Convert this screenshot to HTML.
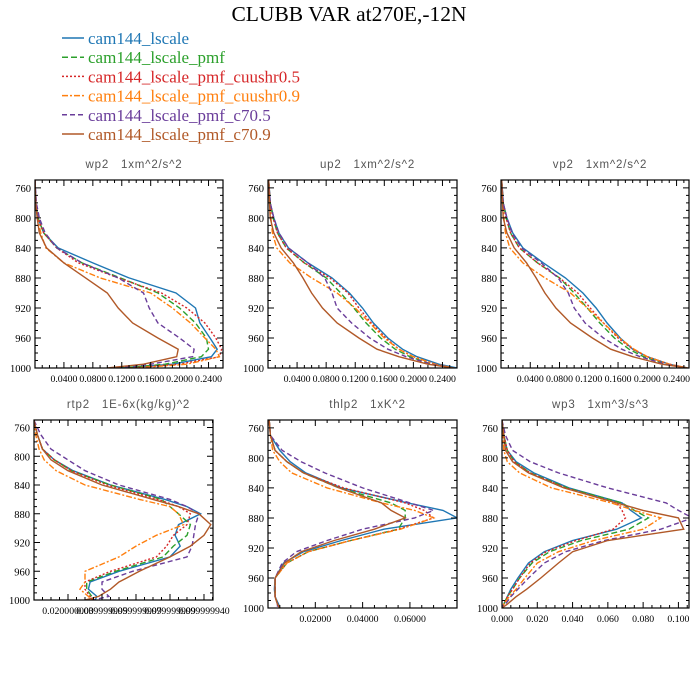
<!DOCTYPE html>
<html><head><meta charset="utf-8">
<style>
html,body{margin:0;padding:0;background:#fff;}
svg{display:block;}
.ttl{font-family:"Liberation Serif",serif;font-size:21.5px;fill:#000;}
.leg{font-family:"Liberation Serif",serif;font-size:17px;}
.ptitle{font-family:"Liberation Sans",sans-serif;font-size:11.5px;fill:#555;letter-spacing:0.8px;white-space:pre;}
.tick{font-family:"Liberation Serif",serif;font-size:10.5px;fill:#000;}
.xtick{font-family:"Liberation Serif",serif;font-size:9.8px;fill:#000;}
</style></head>
<body>
<svg id="chart" width="700" height="700" viewBox="0 0 700 700">
<text class="ttl" x="349" y="21" text-anchor="middle">CLUBB VAR at270E,-12N</text>
<g id="legend"></g>
<g id="panels"></g>
</svg>
<script>
const seriesNames = ["cam144_lscale","cam144_lscale_pmf","cam144_lscale_pmf_cuushr0.5","cam144_lscale_pmf_cuushr0.9","cam144_lscale_pmf_c70.5","cam144_lscale_pmf_c70.9"];
const seriesColors = ["#1f77b4","#2ca02c","#d62728","#ff7f0e","#6a3d9a","#b15928"];
const seriesDash = ["none","6,3","2,2","6,2,2,2","5,3","none"];

const topLevels = [750,780,800,820,840,860,880,900,920,940,960,975,985,995,1000];
const botLevels = [750,770,790,805,820,840,860,870,880,895,910,925,940,960,975,985,995,1000];
const yTicks = [760,800,840,880,920,960,1000];

const wp2Blue   = [0,0.001,0.004,0.012,0.032,0.08,0.13,0.195,0.222,0.228,0.242,0.252,0.244,0.19,0.12];
const wp2Green  = [0,0.001,0.004,0.012,0.03,0.065,0.118,0.17,0.2,0.222,0.237,0.24,0.23,0.18,0.12];
const wp2Red    = [0,0.001,0.004,0.012,0.03,0.06,0.115,0.175,0.21,0.235,0.25,0.258,0.255,0.2,0.13];
const wp2Orange = [0,0.001,0.003,0.008,0.015,0.04,0.09,0.16,0.19,0.215,0.235,0.25,0.255,0.21,0.14];
const wp2Purple = [0,0.002,0.006,0.014,0.03,0.065,0.115,0.15,0.158,0.17,0.2,0.22,0.218,0.16,0.11];
const wp2Brown  = [0,0.001,0.003,0.006,0.016,0.04,0.07,0.1,0.115,0.135,0.17,0.198,0.196,0.15,0.1];

const up2Blue   = [0.001,0.003,0.008,0.015,0.028,0.055,0.088,0.112,0.13,0.145,0.165,0.185,0.205,0.235,0.26];
const up2Green  = [0.001,0.003,0.007,0.013,0.025,0.05,0.08,0.1,0.118,0.135,0.155,0.175,0.195,0.225,0.255];
const up2Red    = [0.001,0.003,0.007,0.013,0.025,0.05,0.085,0.11,0.125,0.142,0.162,0.18,0.2,0.23,0.255];
const up2Orange = [0.001,0.002,0.004,0.006,0.012,0.03,0.06,0.095,0.12,0.14,0.16,0.18,0.2,0.23,0.255];
const up2Purple = [0.001,0.003,0.008,0.015,0.028,0.055,0.078,0.088,0.095,0.115,0.14,0.165,0.19,0.225,0.255];
const up2Brown  = [0.001,0.002,0.003,0.008,0.018,0.035,0.048,0.06,0.075,0.095,0.125,0.15,0.18,0.22,0.255];

const vp2Blue   = [0.001,0.003,0.008,0.016,0.03,0.058,0.088,0.112,0.13,0.145,0.163,0.18,0.2,0.23,0.255];
const vp2Green  = [0.001,0.003,0.007,0.013,0.025,0.05,0.08,0.1,0.118,0.135,0.155,0.175,0.195,0.225,0.255];
const vp2Red    = [0.001,0.003,0.007,0.013,0.025,0.05,0.08,0.105,0.122,0.14,0.16,0.18,0.2,0.23,0.255];
const vp2Orange = [0.001,0.002,0.004,0.006,0.012,0.03,0.06,0.095,0.118,0.14,0.162,0.182,0.2,0.23,0.255];
const vp2Purple = [0.001,0.003,0.008,0.015,0.028,0.055,0.078,0.092,0.1,0.115,0.14,0.165,0.19,0.225,0.255];
const vp2Brown  = [0.001,0.002,0.003,0.008,0.018,0.035,0.048,0.06,0.075,0.095,0.125,0.15,0.18,0.22,0.255];

const rtp2Blue   = [0,0.002,0.005,0.012,0.023,0.045,0.077,0.09,0.098,0.085,0.083,0.086,0.08,0.05,0.033,0.032,0.037,0.036];
const rtp2Green  = [0,0.002,0.005,0.012,0.022,0.045,0.075,0.08,0.085,0.092,0.09,0.082,0.076,0.048,0.031,0.031,0.034,0.035];
const rtp2Red    = [0,0.002,0.005,0.012,0.022,0.043,0.073,0.085,0.092,0.09,0.082,0.078,0.072,0.045,0.03,0.03,0.033,0.035];
const rtp2Orange = [0,0.001,0.003,0.006,0.013,0.03,0.062,0.08,0.085,0.088,0.072,0.06,0.05,0.03,0.03,0.027,0.032,0.034];
const rtp2Purple = [0,0.004,0.01,0.02,0.03,0.05,0.08,0.09,0.097,0.095,0.094,0.093,0.09,0.058,0.04,0.04,0.044,0.035];
const rtp2Brown  = [0,0.002,0.005,0.01,0.02,0.04,0.07,0.085,0.097,0.104,0.1,0.092,0.08,0.062,0.05,0.045,0.038,0.03];

const thlp2Blue   = [0.0005,0.001,0.005,0.0094,0.016,0.031,0.059,0.074,0.08,0.049,0.031,0.015,0.0066,0.003,0.0027,0.003,0.0045,0.005];
const thlp2Green  = [0.0005,0.001,0.003,0.008,0.015,0.03,0.052,0.058,0.058,0.055,0.035,0.017,0.008,0.003,0.003,0.003,0.004,0.005];
const thlp2Red    = [0.0005,0.001,0.003,0.008,0.015,0.032,0.058,0.066,0.07,0.055,0.035,0.017,0.008,0.003,0.003,0.003,0.004,0.005];
const thlp2Orange = [0.0005,0.001,0.002,0.005,0.01,0.025,0.048,0.062,0.07,0.056,0.035,0.017,0.008,0.003,0.003,0.003,0.004,0.005];
const thlp2Purple = [0.0005,0.001,0.006,0.014,0.024,0.04,0.06,0.07,0.062,0.04,0.025,0.012,0.006,0.003,0.003,0.003,0.004,0.004];
const thlp2Brown  = [0.0005,0.001,0.003,0.008,0.015,0.03,0.048,0.052,0.058,0.045,0.028,0.014,0.007,0.003,0.003,0.003,0.004,0.005];

const wp3Blue   = [0,0.001,0.003,0.008,0.018,0.038,0.068,0.073,0.079,0.065,0.04,0.024,0.015,0.009,0.005,0.003,0.001,0];
const wp3Green  = [0,0.001,0.003,0.007,0.016,0.037,0.068,0.075,0.083,0.072,0.045,0.027,0.017,0.01,0.006,0.003,0.001,0];
const wp3Red    = [0,0.001,0.003,0.007,0.016,0.036,0.065,0.068,0.07,0.063,0.042,0.025,0.016,0.01,0.006,0.003,0.001,0];
const wp3Orange = [0,0.0005,0.001,0.003,0.01,0.028,0.062,0.075,0.09,0.08,0.052,0.032,0.02,0.013,0.008,0.004,0.001,0];
const wp3Purple = [0,0.002,0.006,0.016,0.032,0.06,0.093,0.1,0.108,0.09,0.058,0.036,0.024,0.015,0.009,0.005,0.002,0];
const wp3Brown  = [0,0.001,0.002,0.006,0.015,0.035,0.065,0.08,0.1,0.103,0.06,0.04,0.032,0.022,0.014,0.008,0.003,0];

const topXTicks = [0.04,0.08,0.12,0.16,0.20,0.24];
const topXLabels = ["0.0400","0.0800","0.1200","0.1600","0.2000","0.2400"];
const rtpXTicks = [0.02,0.04,0.06,0.08,0.10];
const rtpXLabels = ["0.020000000","0.039999999","0.059999999","0.079999999","0.099999940"];
const thlXTicks = [0.02,0.04,0.06];
const thlXLabels = ["0.02000","0.04000","0.06000"];
const wp3XTicks = [0,0.02,0.04,0.06,0.08,0.10];
const wp3XLabels = ["0.000","0.020","0.040","0.060","0.080","0.100"];

const NS="http://www.w3.org/2000/svg";
function mk(tag, parent){const e=document.createElementNS(NS,tag);parent.appendChild(e);return e;}

const lg=document.getElementById('legend');
for(let i=0;i<seriesNames.length;i++){
  const y=38+i*19.2;
  const ln=mk('line',lg);
  
  
  ln.setAttribute('x1',62);ln.setAttribute('x2',84);ln.setAttribute('y1',y);ln.setAttribute('y2',y);
  ln.setAttribute('stroke',seriesColors[i]);ln.setAttribute('stroke-width',1.5);
  if(seriesDash[i]!=='none')ln.setAttribute('stroke-dasharray',seriesDash[i]);
  const t=mk('text',lg);
  
  
  t.setAttribute('class','leg');t.setAttribute('x',88);t.setAttribute('y',y+6);
  t.setAttribute('fill',seriesColors[i]);t.textContent=seriesNames[i];
}

const panels=[
 {name:'wp2',title:'wp2   1xm^2/s^2',box:[35,180,223,368],xd:[0,0.26],lev:topLevels,xt:topXTicks,xl:topXLabels,minor:0.01,data:[wp2Blue,wp2Green,wp2Red,wp2Orange,wp2Purple,wp2Brown]},
 {name:'up2',title:'up2   1xm^2/s^2',box:[268,180,457,368],xd:[0,0.26],lev:topLevels,xt:topXTicks,xl:topXLabels,minor:0.01,data:[up2Blue,up2Green,up2Red,up2Orange,up2Purple,up2Brown]},
 {name:'vp2',title:'vp2   1xm^2/s^2',box:[501,180,689,368],xd:[0,0.257],lev:topLevels,xt:topXTicks,xl:topXLabels,minor:0.01,data:[vp2Blue,vp2Green,vp2Red,vp2Orange,vp2Purple,vp2Brown]},
 {name:'rtp2',title:'rtp2   1E-6x(kg/kg)^2',box:[34,420,213,600],xd:[0,0.1053],lev:botLevels,xt:rtpXTicks,xl:rtpXLabels,minor:0.005,data:[rtp2Blue,rtp2Green,rtp2Red,rtp2Orange,rtp2Purple,rtp2Brown]},
 {name:'thlp2',title:'thlp2   1xK^2',box:[268,420,457,608],xd:[0,0.0799],lev:botLevels,xt:thlXTicks,xl:thlXLabels,minor:0.005,data:[thlp2Blue,thlp2Green,thlp2Red,thlp2Orange,thlp2Purple,thlp2Brown]},
 {name:'wp3',title:'wp3   1xm^3/s^3',box:[502,420,689,608],xd:[0,0.106],lev:botLevels,xt:wp3XTicks,xl:wp3XLabels,minor:0.005,data:[wp3Blue,wp3Green,wp3Red,wp3Orange,wp3Purple,wp3Brown]}
];

const pg=document.getElementById('panels');
panels.forEach(p=>{
  const [x0,y0,x1,y1]=p.box;
  const pMin=749.5,pMax=1000;
  const X=v=>x0+(v-p.xd[0])/(p.xd[1]-p.xd[0])*(x1-x0);
  const Y=v=>y0+(v-pMin)/(pMax-pMin)*(y1-y0);
  const g=mk('g',pg);
  
  
  const cp=mk('clipPath',g);cp.setAttribute('id','clip-'+p.name);
  const cr=mk('rect',cp);cr.setAttribute('x',x0);cr.setAttribute('y',y0);cr.setAttribute('width',x1-x0);cr.setAttribute('height',y1-y0);
  const tt=mk('text',g);
  
  
  tt.setAttribute('class','ptitle');tt.setAttribute('x',(x0+x1)/2+5);tt.setAttribute('y',y0-12);
  tt.setAttribute('text-anchor','middle');tt.textContent=p.title;
  const sg=mk('g',g);sg.setAttribute('clip-path','url(#clip-'+p.name+')');
  
  
  p.data.forEach((arr,i)=>{
    const pl=mk('polyline',sg);
    
    
    pl.setAttribute('points',arr.map((v,j)=>X(v).toFixed(1)+','+Y(p.lev[j]).toFixed(1)).join(' '));
    pl.setAttribute('fill','none');pl.setAttribute('stroke',seriesColors[i]);pl.setAttribute('stroke-width',1.4);
    if(seriesDash[i]!=='none')pl.setAttribute('stroke-dasharray',seriesDash[i]);
  });
  const fr=mk('rect',g);
  
  
  fr.setAttribute('x',x0);fr.setAttribute('y',y0);fr.setAttribute('width',x1-x0);fr.setAttribute('height',y1-y0);
  fr.setAttribute('fill','none');fr.setAttribute('stroke','#000');fr.setAttribute('stroke-width',1.2);
  let d='';
  for(let v=760;v<=1000;v+=10){
    const yy=Y(v),L=(v%40===0)?6:3;
    d+=`M${x0},${yy}h${L}M${x1},${yy}h${-L}`;
  }
  const nMin=Math.floor(p.xd[1]/p.minor+1e-9);
  for(let k=1;k<=nMin;k++){
    const v=k*p.minor,xx=X(v);
    const major=p.xt.some(t=>Math.abs(t-v)<1e-9);
    const L=major?6:3;
    d+=`M${xx},${y1}v${-L}M${xx},${y0}v${L}`;
  }
  const tk=mk('path',g);
  
  
  tk.setAttribute('d',d);tk.setAttribute('stroke','#000');tk.setAttribute('stroke-width',1);
  yTicks.forEach(v=>{
    const t=mk('text',g);
    
    
    t.setAttribute('class','tick');t.setAttribute('x',x0-4);t.setAttribute('y',Y(v)+4);
    t.setAttribute('text-anchor','end');t.textContent=v;
  });
  p.xt.forEach((v,k)=>{
    const t=mk('text',g);
    
    
    t.setAttribute('class','xtick');t.setAttribute('x',X(v));t.setAttribute('y',y1+14);
    t.setAttribute('text-anchor','middle');t.textContent=p.xl[k];
  });
});
</script>
</body></html>
